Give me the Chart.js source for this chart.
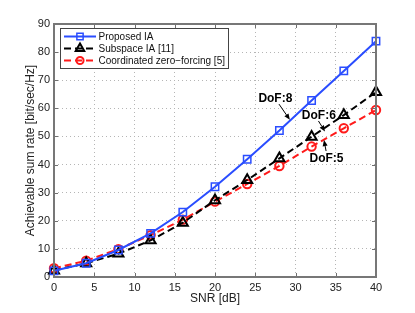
<!DOCTYPE html>
<html>
<head>
<meta charset="utf-8">
<script src="https://cdn.jsdelivr.net/npm/chart.js@4/dist/chart.umd.min.js"></script>
<style>
  html, body { margin: 0; padding: 0; background: #fff; }
  #wrap { width: 415px; height: 313px; }
</style>
</head>
<body>
<div id="wrap"><canvas id="rateChart"></canvas></div>
<script>
// === Dati ===
const SNR_DB = [0, 4, 8, 12, 16, 20, 24, 28, 32, 36, 40];
const PROPOSED_IA = [2.2, 4.9, 9.6, 15.5, 23.1, 32.1, 41.9, 52.1, 62.8, 73.3, 83.9];
const SUBSPACE_IA = [2.3, 4.9, 8.3, 13.0, 19.3, 27.3, 34.5, 42.2, 49.9, 57.6, 65.8];
const COORD_ZF = [3.1, 5.8, 9.9, 14.9, 20.4, 26.8, 33.1, 39.5, 46.4, 52.9, 59.4];

const SERIES_LABELS = ["Proposed IA", "Subspace IA [11]", "Coordinated zero\u2212forcing [5]"];
const X_TICK_STEP = 5;
const Y_TICK_STEP = 10;

// Annotazioni "DoF" in coordinate dati: testo, punto di partenza e punta della freccia
const DOF_LABELS = ["DoF:8", "DoF:6", "DoF:5"];
const DOF_TEXT_AT = [[27.5, 63.3], [32.9, 57.5], [33.85, 42.0]];
const DOF_ARROW_FROM = [[27.95, 61.5], [32.85, 55.5], [33.8, 44.8]];
const DOF_ARROW_TO = [[29.3, 55.9], [33.66, 51.8], [33.54, 48.7]];

Chart.defaults.font.family = "'Liberation Sans', Arial, Helvetica, sans-serif";

const toPoints = (ys) => SNR_DB.map((x, i) => ({ x, y: ys[i] }));

// Box stile MATLAB con tacche verso l'interno su tutti e quattro i lati
const boxPlugin = {
  id: "matlabBox",
  afterDatasetsDraw(chart) {
    const { ctx, chartArea: a, scales } = chart;
    ctx.save();
    ctx.strokeStyle = "#707070";
    ctx.lineWidth = 1;
    const tl = 4;
    scales.x.ticks.forEach(t => {
      const px = Math.round(scales.x.getPixelForValue(t.value)) + 0.5;
      ctx.beginPath();
      ctx.moveTo(px, a.bottom); ctx.lineTo(px, a.bottom - tl);
      ctx.moveTo(px, a.top); ctx.lineTo(px, a.top + tl);
      ctx.stroke();
    });
    scales.y.ticks.forEach(t => {
      const py = Math.round(scales.y.getPixelForValue(t.value)) + 0.5;
      ctx.beginPath();
      ctx.moveTo(a.left, py); ctx.lineTo(a.left + tl, py);
      ctx.moveTo(a.right, py); ctx.lineTo(a.right - tl, py);
      ctx.stroke();
    });
    ctx.lineWidth = 2;
    ctx.strokeStyle = "#777";
    ctx.strokeRect(a.left, a.top, a.right - a.left, a.bottom - a.top);
    ctx.restore();
  }
};

// Frecce e testi "DoF"
const dofPlugin = {
  id: "dofNotes",
  afterDatasetsDraw(chart) {
    const { ctx, scales: { x, y } } = chart;
    ctx.save();
    ctx.fillStyle = "#000";
    ctx.strokeStyle = "#000";
    ctx.lineWidth = 1;
    ctx.font = "bold 12px 'Liberation Sans', Arial, sans-serif";
    ctx.textAlign = "center";
    ctx.textBaseline = "middle";
    DOF_LABELS.forEach((lbl, i) => {
      ctx.fillText(lbl, x.getPixelForValue(DOF_TEXT_AT[i][0]), y.getPixelForValue(DOF_TEXT_AT[i][1]));
      const x1 = x.getPixelForValue(DOF_ARROW_FROM[i][0]), y1 = y.getPixelForValue(DOF_ARROW_FROM[i][1]);
      const x2 = x.getPixelForValue(DOF_ARROW_TO[i][0]), y2 = y.getPixelForValue(DOF_ARROW_TO[i][1]);
      const ang = Math.atan2(y2 - y1, x2 - x1);
      const hl = 6, hw = 2.5;
      const bx = x2 - hl * Math.cos(ang), by = y2 - hl * Math.sin(ang);
      ctx.beginPath();
      ctx.moveTo(x1, y1); ctx.lineTo(bx, by);
      ctx.stroke();
      ctx.beginPath();
      ctx.moveTo(x2, y2);
      ctx.lineTo(bx + hw * Math.sin(ang), by - hw * Math.cos(ang));
      ctx.lineTo(bx - hw * Math.sin(ang), by + hw * Math.cos(ang));
      ctx.closePath();
      ctx.fill();
    });
    ctx.restore();
  }
};

// Legenda disegnata a mano: linea + marker come in MATLAB
const legendPlugin = {
  id: "matlabLegend",
  afterDraw(chart) {
    const { ctx, chartArea: a } = chart;
    const x0 = a.left + 6, y0 = a.top + 4, w = 168, h = 40;
    ctx.save();
    ctx.fillStyle = "#fff";
    ctx.fillRect(x0, y0, w, h);
    ctx.strokeStyle = "#444";
    ctx.lineWidth = 1;
    ctx.strokeRect(x0 + 0.5, y0 + 0.5, w, h);
    ctx.font = "10px 'Liberation Sans', Arial, sans-serif";
    ctx.textBaseline = "middle";
    chart.data.datasets.forEach((ds, i) => {
      const cy = y0 + 8.5 + i * 12;
      ctx.strokeStyle = ds.borderColor;
      ctx.lineWidth = ds.borderWidth;
      ctx.setLineDash(ds.borderDash || []);
      ctx.beginPath();
      ctx.moveTo(x0 + 4, cy); ctx.lineTo(x0 + 36, cy);
      ctx.stroke();
      ctx.setLineDash([]);
      ctx.fillStyle = "rgba(0,0,0,0)";
      ctx.lineWidth = ds.pointBorderWidth;
      Chart.helpers.drawPoint(ctx, { pointStyle: ds.pointStyle, radius: ds.pointRadius * 0.85, borderWidth: ds.pointBorderWidth, rotation: 0 }, x0 + 20, cy);
      ctx.fillStyle = "#111";
      ctx.fillText(ds.label, x0 + 38.5, cy + 0.5);
    });
    ctx.restore();
  }
};

new Chart(document.getElementById("rateChart"), {
  type: "line",
  data: {
    datasets: [
      {
        label: SERIES_LABELS[0],
        data: toPoints(PROPOSED_IA),
        borderColor: "#2a4dff", borderWidth: 2,
        pointStyle: "rect", pointRadius: 5.2, pointBorderWidth: 1.5,
        pointBorderColor: "#2a4dff", pointBackgroundColor: "rgba(0,0,0,0)",
        clip: false
      },
      {
        label: SERIES_LABELS[1],
        data: toPoints(SUBSPACE_IA),
        borderColor: "#000", borderWidth: 2, borderDash: [7, 4],
        pointStyle: "triangle", pointRadius: 5.8, pointBorderWidth: 2,
        pointBorderColor: "#000", pointBackgroundColor: "rgba(0,0,0,0)",
        clip: false
      },
      {
        label: SERIES_LABELS[2],
        data: toPoints(COORD_ZF),
        borderColor: "#ff1a1a", borderWidth: 2, borderDash: [7, 4],
        pointStyle: "circle", pointRadius: 4.2, pointBorderWidth: 2,
        pointBorderColor: "#ff1a1a", pointBackgroundColor: "rgba(0,0,0,0)",
        clip: false
      }
    ]
  },
  options: {
    responsive: true,
    maintainAspectRatio: false,
    animation: false,
    layout: { padding: { left: 0, right: 39, top: 24, bottom: 0 } },
    plugins: { legend: { display: false }, tooltip: { enabled: false } },
    scales: {
      x: {
        type: "linear", min: 0, max: 40,
        ticks: { stepSize: X_TICK_STEP, color: "#222", font: { size: 11 }, padding: 4, maxRotation: 0 },
        grid: { color: "#b5b5b5", lineWidth: 1, drawTicks: false },
        border: { display: false, dash: [1, 3] },
        title: { display: true, text: "SNR [dB]", color: "#222", font: { size: 12 }, padding: { top: 0, bottom: 7 } },
        afterFit: (s) => { s.height = 36; }
      },
      y: {
        min: 0, max: 90,
        ticks: { stepSize: Y_TICK_STEP, color: "#222", font: { size: 11 }, padding: 4 },
        grid: { color: "#b5b5b5", lineWidth: 1, drawTicks: false },
        border: { display: false, dash: [1, 3] },
        title: { display: true, text: "Achievable sum rate [bit/sec/Hz]", color: "#222", font: { size: 12 }, padding: { top: 23, bottom: 0 } },
        afterFit: (s) => { s.width = 54; }
      }
    }
  },
  plugins: [boxPlugin, dofPlugin, legendPlugin]
});
</script>
</body>
</html>
